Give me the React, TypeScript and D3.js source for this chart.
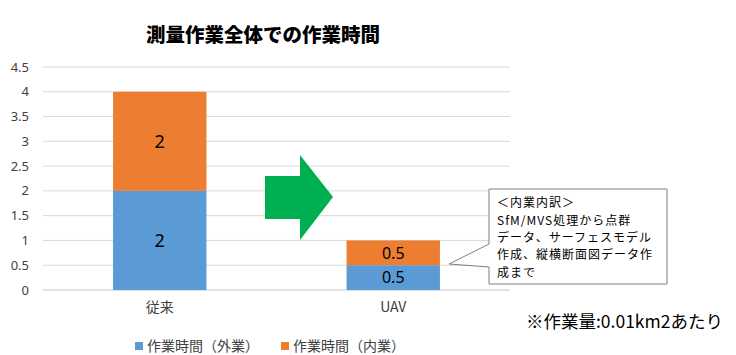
import React from "react";
import * as d3 from "d3";

const categories = ["従来", "UAV"];
const outerWork = [2, 0.5];
const innerWork = [2, 0.5];
const yTicks = [0, 0.5, 1, 1.5, 2, 2.5, 3, 3.5, 4, 4.5];
const seriesNames = ["作業時間（外業）", "作業時間（内業）"];
const calloutLines = ["＜内業内訳＞", "SfM/MVS処理から点群", "データ、サーフェスモデル", "作成、縦横断面図データ作", "成まで"];

const COLORS = ["#5b9bd5", "#ed7d31"];
const FONT = "'Noto Sans', 'Noto Sans CJK JP', sans-serif";
const JP = "'Noto Sans CJK JP', sans-serif";

export default function App() {
  const W = 736, H = 355;
  const left = 43, right = 510, top = 67, bottom = 290;

  const x = d3.scaleBand<string>().domain(categories).range([left, right]).paddingInner(0.6).paddingOuter(0.3);
  const y = d3.scaleLinear().domain([0, 4.5]).range([bottom, top]);

  const stacked = categories.map((c, i) => ({ cat: c, values: [outerWork[i], innerWork[i]] }));

  return (
    <svg width={W} height={H} style={{ position: "absolute", left: 0, top: 0, background: "#fff" }}>
      <text x={263} y={42} textAnchor="middle" fontFamily={JP} fontWeight="900" fontSize={19.5} fill="#000">
        測量作業全体での作業時間
      </text>

      {yTicks.map(t => (
        <g key={t}>
          <line x1={left} x2={right} y1={y(t)} y2={y(t)} stroke="#d9d9d9" strokeWidth={t === 0 ? 1.5 : 1} />
          <text x={29} y={y(t)} dy="0.35em" textAnchor="end" fontFamily={FONT} fontSize={13} fill="#404040">{t}</text>
        </g>
      ))}

      {stacked.map(d => {
        let acc = 0;
        return (
          <g key={d.cat}>
            {d.values.map((v, j) => {
              const y0 = acc; acc += v;
              const yTop = y(acc), yBot = y(y0);
              return (
                <g key={j}>
                  <rect x={x(d.cat)!} y={yTop} width={x.bandwidth()} height={yBot - yTop} fill={COLORS[j]} />
                  <text x={x(d.cat)! + x.bandwidth() / 2} y={(yTop + yBot) / 2} dy="0.36em" textAnchor="middle"
                    fontFamily={FONT} fontSize={v >= 1 ? 18 : 16} fill="#000">{v}</text>
                </g>
              );
            })}
            <text x={x(d.cat)! + x.bandwidth() / 2} y={307} dy="0.35em" textAnchor="middle" fontFamily={JP} fontSize={14} fill="#404040">{d.cat}</text>
          </g>
        );
      })}

      {/* green arrow */}
      <path d="M265,176 H300 V155 L333,197 L300,240 V219 H265 Z" fill="#00b050" />

      {/* callout */}
      <path d="M489,189 H667 V284 H489 V267 L449,264 L489,244 Z" fill="#fff" stroke="#7f7f7f" strokeWidth={1} />
      {calloutLines.map((l, i) => (
        <text key={i} x={497} y={203 + i * 17.4} dy="0.35em" fontFamily={JP} fontSize={12} letterSpacing={1} fill="#000">{l}</text>
      ))}

      <text x={526} y={322} dy="0.35em" fontFamily={JP} fontSize={17.5} fill="#000">※作業量:0.01km2あたり</text>

      {seriesNames.map((s, i) => (
        <g key={s} transform={`translate(${135 + i * 146},346)`}>
          <rect x={0} y={-4} width={8} height={8} fill={COLORS[i]} />
          <text x={12} y={0} dy="0.35em" fontFamily={JP} fontSize={14} fill="#404040">{s}</text>
        </g>
      ))}
    </svg>
  );
}
